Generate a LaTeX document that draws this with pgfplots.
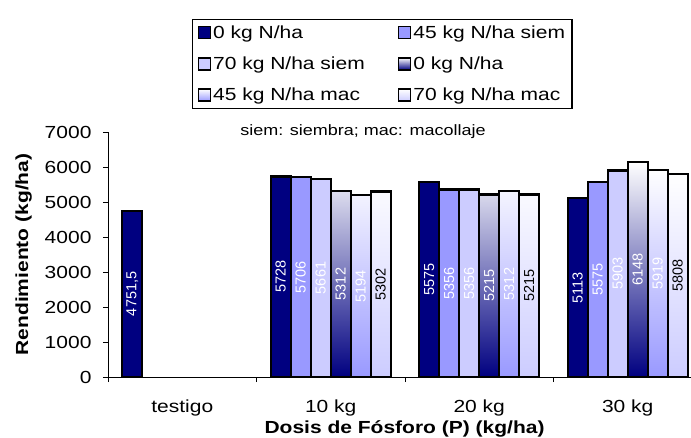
\documentclass[border=0pt]{standalone}
\usepackage{pgfplots}
\pgfplotsset{compat=1.18}
\usepackage{fontspec}
\setmainfont{Liberation Sans}[FakeStretch=1.2]
\newfontfamily\barfont{Liberation Sans}
\definecolor{navyc}{RGB}{0,0,128}
\definecolor{lilac}{RGB}{153,153,255}
\definecolor{pale}{RGB}{204,204,255}
\begin{document}
\begin{tikzpicture}
\begin{axis}[
  at={(0,0)}, anchor=south west,
  scale only axis, width=583pt, height=245pt,
  xmin=0, xmax=3.926, ymin=0, ymax=7000,
  clip=false,
  axis x line*=bottom, axis y line*=left,
  axis line style={black, line width=0.8pt},
  ybar=0pt, bar width=0.1347,
  xtick={0,1,2,3}, xticklabels={},
  extra x ticks={0.5,1.5,2.5,3.5},
  extra x tick labels={testigo,10 kg,20 kg,30 kg},
  extra x tick style={major tick length=0pt, xticklabel style={yshift=-19pt}},
  ytick={0,1000,...,7000},
  yticklabel style={xshift=-8pt},
  tick align=outside, major tick length=5pt,
  tick style={black, line width=0.8pt},
  tick label style={font=\fontsize{17.5}{20}\selectfont},
  /pgf/number format/assume math mode=true,
  /pgf/number format/1000 sep={},
  xlabel={Dosis de Fósforo (P) (kg/ha)},
  ylabel={Rendimiento (kg/ha)},
  label style={font=\bfseries\fontsize{17.5}{20}\selectfont},
  xlabel style={at={(axis description cs:0.5086,0)}, anchor=base, yshift=-56pt},
  ylabel style={at={(axis description cs:-0.1372,0.5)}, anchor=base},
  legend columns=2,
  legend cell align=left,
  legend style={at={(axis description cs:0.1441,1.4612)}, anchor=north west,
    draw=black, line width=1.2pt, fill=white,
    font=\fontsize{17.5}{20}\selectfont,
    inner xsep=5pt, inner ysep=4pt, row sep=13pt,
    /tikz/every even column/.append style={column sep=31pt},
    nodes={inner sep=2pt}},
  legend image code/.code={\draw[#1, line width=1.5pt] (0pt,-6pt) rectangle (12pt,6pt);},
  point meta=explicit symbolic,
  nodes near coords={\pgfplotspointmeta},
  nodes near coords align=center,
  visualization depends on={y \as \rawy},
  every node near coord/.append style={shift={(axis direction cs:0,-0.5*\rawy)}, rotate=90, anchor=center, text=white, font=\barfont\fontsize{14.5}{16}\selectfont},
]
\addplot[draw=black, line width=2.2pt, fill=navyc] coordinates {(0.5,4751.5) [4751{,}5] (1.5,5728) [5728] (2.5,5575) [5575] (3.5,5113) [5113]};
\addplot[draw=black, line width=2.2pt, fill=lilac] coordinates {(1.5,5706) [5706] (2.5,5356) [5356] (3.5,5575) [5575]};
\addplot[draw=black, line width=2.2pt, fill=pale] coordinates {(1.5,5661) [5661] (2.5,5356) [5356] (3.5,5903) [5903]};
\addplot[draw=black, line width=2.2pt, top color=white, bottom color=navyc] coordinates {(1.5,5312) [5312] (2.5,5215) [5215] (3.5,6148) [6148]};
\addplot[draw=black, line width=2.2pt, top color=white, bottom color=lilac] coordinates {(1.5,5194) [5194] (2.5,5312) [5312] (3.5,5919) [5919]};
\addplot[draw=black, line width=2.2pt, top color=white, bottom color=pale, every node near coord/.append style={text=black}] coordinates {(1.5,5302) [5302] (2.5,5215) [5215] (3.5,5808) [5808]};
\legend{0 kg N/ha, 45 kg N/ha siem, 70 kg N/ha siem, 0 kg N/ha, 45 kg N/ha mac, 70 kg N/ha mac}
\node[anchor=base, font=\fontsize{15}{18}\selectfont] at (axis cs:1.717,6914) {siem: siembra; mac: macollaje};
\end{axis}
\pgfresetboundingbox
\path[use as bounding box] (-108pt,-60pt) rectangle (583pt,377pt);
\end{tikzpicture}
\end{document}
